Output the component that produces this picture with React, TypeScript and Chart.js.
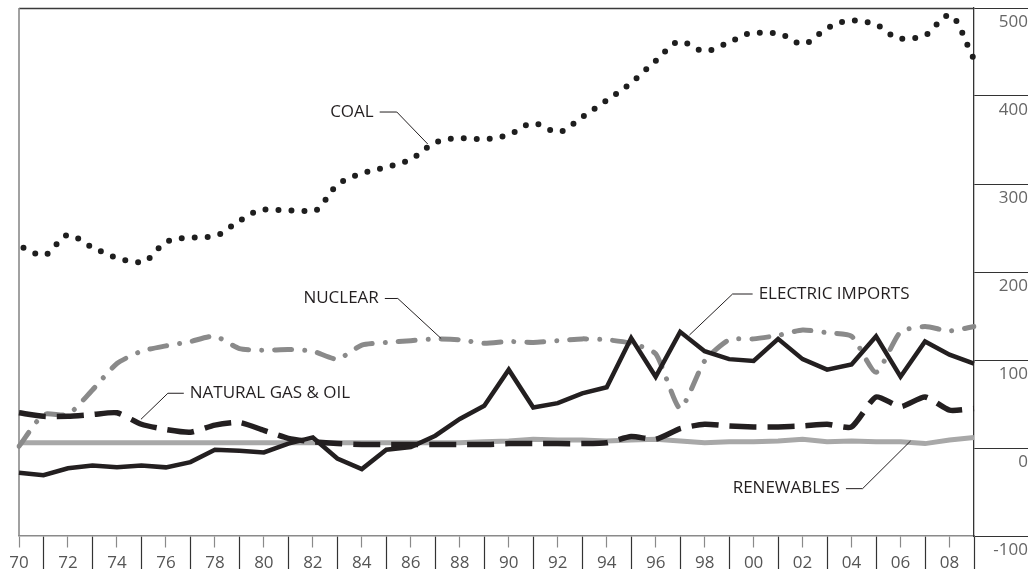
import React, { useEffect, useRef } from "react";
import { Chart, registerables } from "chart.js";

Chart.register(...registerables);

const years = [
  "1970", "1971", "1972", "1973", "1974", "1975", "1976", "1977", "1978", "1979",
  "1980", "1981", "1982", "1983", "1984", "1985", "1986", "1987", "1988", "1989",
  "1990", "1991", "1992", "1993", "1994", "1995", "1996", "1997", "1998", "1999",
  "2000", "2001", "2002", "2003", "2004", "2005", "2006", "2007", "2008", "2009",
];

const coal = [
  230, 219, 242, 228, 216, 211, 234, 239, 241, 258,
  271, 270, 269, 299, 312, 319, 328, 347, 352, 351,
  356, 369, 359, 376, 395, 415, 440, 462, 451, 461,
  472, 471, 459, 477, 486, 481, 465, 469, 492, 442,
];

const nuclear = [
  2, 38, 38, 66, 96, 110, 116, 121, 127, 113,
  111, 112, 110, 101, 117, 120, 122, 124, 123, 119,
  121, 120, 122, 124, 123, 119, 107, 45, 99, 123,
  124, 128, 134, 131, 127, 86, 132, 138, 133, 138,
];

const gasOil = [
  40, 36, 36, 38, 40, 27, 21, 18, 26, 29,
  20, 11, 7, 5, 4, 4, 4, 4, 4, 4,
  5, 5, 5, 5, 6, 13, 10, 22, 27, 25,
  24, 24, 25, 27, 24, 58, 47, 58, 43, 45,
];

const electricImports = [
  -28, -31, -23, -20, -22, -20, -22, -16, -2, -3,
  -5, 5, 12, -12, -24, -2, 1, 14, 33, 48,
  89, 46, 51, 62, 69, 125, 81, 132, 110, 101,
  99, 124, 101, 89, 95, 127, 81, 121, 106, 96,
];

const renewables = [
  6, 6, 6, 6, 6, 6, 6, 6, 6, 6,
  6, 6, 6, 6, 6, 6, 6, 6, 6, 7,
  8, 10, 9, 9, 8, 9, 10, 8, 6, 7,
  7, 8, 10, 7, 8, 7, 7, 5, 9, 12,
];

const yMin = -100;
const yMax = 500;
const yStep = 100;

// Leader-line annotations, positions in data space: [year index, value]
const annotations = [
  { text: "COAL", tip: [16.69, 345.5], elbow: [15.43, 381.8], end: [14.73, 381.8], side: "left" },
  { text: "NUCLEAR", tip: [17.24, 124.4], elbow: [15.47, 169.9], end: [14.94, 169.9], side: "left" },
  { text: "NATURAL GAS & OIL", tip: [4.98, 32.6], elbow: [6.08, 62.2], end: [6.73, 62.2], side: "right" },
  { text: "ELECTRIC IMPORTS", tip: [27.38, 128.4], elbow: [29.14, 175], end: [29.96, 175], side: "right" },
  { text: "RENEWABLES", tip: [36.41, 8], elbow: [34.45, -46.2], end: [33.77, -46.2], side: "left" },
];

const FONT = '"Open Sans", "Noto Sans", sans-serif';
const INK = "#231f20";

const framePlugin = {
  id: "frame",
  beforeDatasetsDraw(chart: any) {
    const { ctx, chartArea } = chart;
    ctx.save();
    ctx.lineWidth = 1.3;
    ctx.strokeStyle = "#3a3a3a";
    ctx.beginPath();
    ctx.moveTo(chartArea.left, chartArea.top + 0.5);
    ctx.lineTo(chartArea.right, chartArea.top + 0.5);
    ctx.stroke();
    ctx.strokeStyle = "#8a8a8a";
    ctx.lineWidth = 1.6;
    ctx.beginPath();
    ctx.moveTo(chartArea.left, chartArea.top);
    ctx.lineTo(chartArea.left, chartArea.bottom);
    ctx.stroke();
    ctx.restore();
  },
};

const leaderPlugin = {
  id: "leaders",
  afterDatasetsDraw(chart: any) {
    const { ctx } = chart;
    const xs = chart.scales.x;
    const ys = chart.scales.y;
    const px = (p: number[]) => [xs.getPixelForValue(p[0]), ys.getPixelForValue(p[1])];
    ctx.save();
    ctx.strokeStyle = INK;
    ctx.lineWidth = 1;
    ctx.fillStyle = INK;
    ctx.font = `17px ${FONT}`;
    ctx.textBaseline = "middle";
    for (const a of annotations) {
      const t = px(a.tip);
      const e = px(a.elbow);
      const n = px(a.end);
      ctx.beginPath();
      ctx.moveTo(t[0], t[1]);
      ctx.lineTo(e[0], e[1]);
      ctx.lineTo(n[0], n[1]);
      ctx.stroke();
      if (a.side === "left") {
        ctx.textAlign = "right";
        ctx.fillText(a.text, n[0] - 6, n[1]);
      } else {
        ctx.textAlign = "left";
        ctx.fillText(a.text, n[0] + 6, n[1]);
      }
    }
    ctx.restore();
  },
};

export default function App() {
  const canvasRef = useRef<HTMLCanvasElement | null>(null);

  useEffect(() => {
    if (!canvasRef.current) return;
    const chart = new Chart(canvasRef.current, {
      type: "line",
      data: {
        labels: years,
        datasets: [
          {
            label: "Coal",
            data: coal,
            borderColor: "#1e1e1e",
            borderWidth: 6,
            borderDash: [0, 13],
            borderDashOffset: 8,
            borderCapStyle: "round",
            cubicInterpolationMode: "monotone",
            pointRadius: 0,
            fill: false,
            order: 1,
          },
          {
            label: "Electric imports",
            data: electricImports,
            borderColor: INK,
            borderWidth: 4.5,
            borderJoinStyle: "miter",
            tension: 0,
            pointRadius: 0,
            fill: false,
            order: 2,
          },
          {
            label: "Natural gas & oil",
            data: gasOil,
            borderColor: INK,
            borderWidth: 5.5,
            borderDash: [27, 11],
            tension: 0.2,
            pointRadius: 0,
            fill: false,
            order: 3,
          },
          {
            label: "Nuclear",
            data: nuclear,
            borderColor: "#8a8a8a",
            borderWidth: 5,
            borderDash: [17, 13, 0.01, 13],
            borderCapStyle: "round",
            tension: 0.2,
            pointRadius: 0,
            fill: false,
            order: 4,
          },
          {
            label: "Renewables",
            data: renewables,
            borderColor: "#a8a8a8",
            borderWidth: 5,
            tension: 0,
            pointRadius: 0,
            fill: false,
            order: 5,
          },
        ],
      },
      options: {
        responsive: false,
        animation: false,
        devicePixelRatio: 1,
        layout: { padding: { left: 19, top: 8, right: 0, bottom: 0 } },
        plugins: {
          legend: { display: false },
          tooltip: { enabled: false },
        },
        elements: { line: { clip: false } as any },
        scales: {
          x: {
            type: "category",
            position: "bottom",
            offset: false,
            afterFit: (s: any) => {
              s.height = 33;
            },
            border: { display: true, color: "#8a8a8a", width: 1.5 },
            grid: {
              display: true,
              drawOnChartArea: false,
              drawTicks: true,
              tickLength: 33,
              tickWidth: 1.2,
              tickColor: (c: any) => (c.index % 2 === 0 ? "#8a8a8a" : "#333333"),
              tickBorderDash: (c: any) => (c.index % 2 === 0 ? [11, 60] : []),
            },
            ticks: {
              autoSkip: false,
              maxRotation: 0,
              minRotation: 0,
              padding: -16,
              color: "#555555",
              font: { family: FONT, size: 17 },
              callback: (v: any, i: number) => (i % 2 === 0 ? years[i].slice(2) : ""),
            },
          },
          y: {
            type: "linear",
            position: "right",
            min: yMin,
            max: yMax,
            afterFit: (s: any) => {
              s.width = 54;
            },
            border: { display: true, color: "#333333", width: 1.3 },
            grid: {
              display: true,
              drawOnChartArea: false,
              drawTicks: true,
              tickLength: 54,
              tickWidth: 1.2,
              tickColor: "#333333",
            },
            ticks: {
              stepSize: yStep,
              crossAlign: "far",
              padding: -37,
              labelOffset: 14,
              color: "#666666",
              font: { family: FONT, size: 17 },
              callback: (v: any) => String(v),
            },
          },
        },
      } as any,
      plugins: [framePlugin, leaderPlugin],
    });
    return () => chart.destroy();
  }, []);

  return (
    <div style={{ position: "absolute", left: 0, top: 0, width: 1028, height: 569, background: "#fff" }}>
      <canvas ref={canvasRef} width={1028} height={569} style={{ width: 1028, height: 569, display: "block" }} />
    </div>
  );
}
